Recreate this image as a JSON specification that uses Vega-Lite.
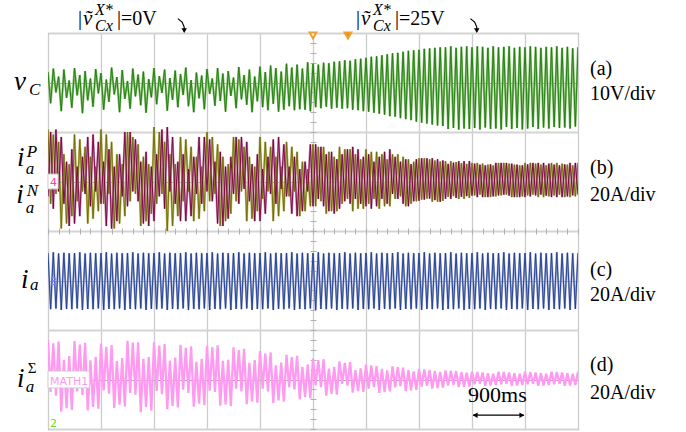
{
"$schema": "https://vega.github.io/schema/vega-lite/v6.json",
"width": 530, "height": 396,
"autosize": {"type": "none"},
"padding": {"left": 48, "top": 33, "right": 108, "bottom": 3},
"background": "white",
"config": {"view": {"stroke": "#3a3a3a", "strokeWidth": 1}},
"datasets": {
"w": [
{"t":0,"a":2.1,"p":21,"n":-6,"i":11.1,"s":16.0},
{"t":0.05,"a":-4.2,"p":-9,"n":20,"i":-11.6,"s":-5.0},
{"t":0.1,"a":2.8,"p":19,"n":-11,"i":11.4,"s":14.6},
{"t":0.15,"a":-2.0,"p":-5,"n":21,"i":-11.3,"s":-6.5},
{"t":0.2,"a":1.2,"p":16,"n":-4,"i":10.9,"s":15.3},
{"t":0.25,"a":-5.8,"p":-19,"n":18,"i":-11.9,"s":-13.0},
{"t":0.3,"a":2.6,"p":11,"n":-9,"i":11.2,"s":8.0},
{"t":0.35,"a":-3.1,"p":-17,"n":8,"i":-11.5,"s":-11.6},
{"t":0.4,"a":0.4,"p":7,"n":-18,"i":11.0,"s":9.5},
{"t":0.45,"a":-5.1,"p":-14,"n":13,"i":-11.6,"s":-12.3},
{"t":0.5,"a":2.9,"p":19,"n":-17,"i":11.1,"s":15.5},
{"t":0.55,"a":-2.6,"p":-8,"n":6,"i":-11.3,"s":-4.8},
{"t":0.6,"a":1.5,"p":17,"n":-14,"i":11.4,"s":14.1},
{"t":0.65,"a":-6.2,"p":-4,"n":10,"i":-11.9,"s":-6.2},
{"t":0.7,"a":2.3,"p":14,"n":-5,"i":10.9,"s":14.8},
{"t":0.75,"a":-3.6,"p":-17,"n":18,"i":-11.5,"s":-12.5},
{"t":0.8,"a":0.8,"p":10,"n":-10,"i":11.2,"s":7.8},
{"t":0.85,"a":-4.9,"p":-15,"n":19,"i":-11.6,"s":-11.1},
{"t":0.9,"a":2.7,"p":6,"n":-4,"i":11.0,"s":9.2},
{"t":0.95,"a":-2.2,"p":-12,"n":16,"i":-11.3,"s":-11.8},
{"t":1.0,"a":1.9,"p":21,"n":-9,"i":11.1,"s":14.5},
{"t":1.05,"a":-5.5,"p":-9,"n":8,"i":-11.9,"s":-4.4},
{"t":1.1,"a":0.6,"p":19,"n":-18,"i":11.4,"s":13.2},
{"t":1.15,"a":-3.9,"p":-5,"n":13,"i":-11.5,"s":-5.7},
{"t":1.2,"a":3.0,"p":16,"n":-19,"i":10.9,"s":13.9},
{"t":1.25,"a":-2.4,"p":-19,"n":6,"i":-11.6,"s":-11.5},
{"t":1.3,"a":1.1,"p":11,"n":-16,"i":11.2,"s":7.4},
{"t":1.35,"a":-6.0,"p":-17,"n":11,"i":-11.3,"s":-10.2},
{"t":1.4,"a":2.5,"p":7,"n":-6,"i":11.0,"s":8.7},
{"t":1.45,"a":-3.3,"p":-14,"n":20,"i":-11.9,"s":-10.9},
{"t":1.5,"a":0.3,"p":20,"n":-10,"i":11.1,"s":15.6},
{"t":1.55,"a":-5.3,"p":-8,"n":20,"i":-11.5,"s":-5.4},
{"t":1.6,"a":2.8,"p":18,"n":-4,"i":11.4,"s":14.9},
{"t":1.65,"a":-2.8,"p":-5,"n":17,"i":-11.6,"s":-6.1},
{"t":1.7,"a":1.6,"p":15,"n":-8,"i":10.9,"s":15.0},
{"t":1.75,"a":-4.6,"p":-18,"n":8,"i":-11.3,"s":-13.2},
{"t":1.8,"a":2.2,"p":10,"n":-17,"i":11.2,"s":8.4},
{"t":1.85,"a":-6.1,"p":-16,"n":12,"i":-11.9,"s":-11.2},
{"t":1.9,"a":0.7,"p":7,"n":-18,"i":11.0,"s":9.1},
{"t":1.95,"a":-3.0,"p":-13,"n":6,"i":-11.5,"s":-12.6},
{"t":2.0,"a":2.9,"p":22,"n":-16,"i":11.1,"s":15.0},
{"t":2.05,"a":-4.4,"p":-9,"n":11,"i":-11.6,"s":-4.6},
{"t":2.1,"a":1.3,"p":20,"n":-6,"i":11.4,"s":13.7},
{"t":2.15,"a":-2.1,"p":-5,"n":21,"i":-11.3,"s":-5.9},
{"t":2.2,"a":2.6,"p":16,"n":-11,"i":10.9,"s":14.3},
{"t":2.25,"a":-5.7,"p":-20,"n":22,"i":-11.9,"s":-12.0},
{"t":2.3,"a":0.9,"p":11,"n":-4,"i":11.2,"s":7.6},
{"t":2.35,"a":-3.5,"p":-18,"n":18,"i":-11.5,"s":-10.7},
{"t":2.4,"a":2.4,"p":7,"n":-9,"i":11.0,"s":8.9},
{"t":2.45,"a":-5.0,"p":-14,"n":8,"i":-11.6,"s":-11.3},
{"t":2.5,"a":1.7,"p":18,"n":-16,"i":11.1,"s":14.0},
{"t":2.55,"a":-2.5,"p":-8,"n":11,"i":-11.3,"s":-4.1},
{"t":2.6,"a":3.0,"p":17,"n":-16,"i":11.4,"s":12.8},
{"t":2.65,"a":-4.8,"p":-4,"n":5,"i":-11.9,"s":-5.4},
{"t":2.7,"a":0.5,"p":14,"n":-14,"i":10.9,"s":13.4},
{"t":2.75,"a":-6.0,"p":-16,"n":10,"i":-11.5,"s":-11.0},
{"t":2.8,"a":2.0,"p":10,"n":-5,"i":11.2,"s":7.1},
{"t":2.85,"a":-3.2,"p":-15,"n":18,"i":-11.6,"s":-9.8},
{"t":2.9,"a":1.4,"p":6,"n":-9,"i":11.0,"s":8.4},
{"t":2.95,"a":-5.4,"p":-12,"n":18,"i":-11.3,"s":-10.4},
{"t":3.0,"a":2.7,"p":20,"n":-4,"i":11.1,"s":13.6},
{"t":3.05,"a":-2.3,"p":-8,"n":17,"i":-11.9,"s":-4.5},
{"t":3.1,"a":0.8,"p":18,"n":-8,"i":11.4,"s":13.1},
{"t":3.15,"a":-4.7,"p":-5,"n":8,"i":-11.5,"s":-5.0},
{"t":3.2,"a":2.9,"p":15,"n":-17,"i":10.9,"s":13.8},
{"t":3.25,"a":-3.7,"p":-18,"n":12,"i":-11.6,"s":-10.6},
{"t":3.3,"a":1.8,"p":10,"n":-18,"i":11.2,"s":7.5},
{"t":3.35,"a":-5.9,"p":-16,"n":6,"i":-11.3,"s":-10.1},
{"t":3.4,"a":2.3,"p":7,"n":-15,"i":11.0,"s":8.0},
{"t":3.45,"a":-2.7,"p":-13,"n":10,"i":-11.9,"s":-10.8},
{"t":3.5,"a":1.0,"p":18,"n":-5,"i":11.1,"s":13.0},
{"t":3.55,"a":-5.2,"p":-8,"n":18,"i":-11.5,"s":-3.7},
{"t":3.6,"a":3.1,"p":17,"n":-9,"i":11.4,"s":11.9},
{"t":3.65,"a":-3.4,"p":-4,"n":18,"i":-11.6,"s":-4.8},
{"t":3.7,"a":1.5,"p":14,"n":-3,"i":10.9,"s":12.4},
{"t":3.75,"a":-4.5,"p":-16,"n":16,"i":-11.3,"s":-10.0},
{"t":3.8,"a":2.6,"p":10,"n":-8,"i":11.2,"s":6.7},
{"t":3.85,"a":-6.0,"p":-15,"n":7,"i":-11.9,"s":-8.9},
{"t":3.9,"a":1.2,"p":6,"n":-16,"i":11.0,"s":7.8},
{"t":3.95,"a":-3.8,"p":-12,"n":11,"i":-11.5,"s":-9.4},
{"t":4.0,"a":3.2,"p":18,"n":-16,"i":11.1,"s":11.5},
{"t":4.05,"a":-5.0,"p":-7,"n":5,"i":-11.6,"s":-3.7},
{"t":4.1,"a":2.1,"p":16,"n":-13,"i":11.4,"s":10.5},
{"t":4.15,"a":-5.6,"p":-4,"n":10,"i":-11.3,"s":-4.8},
{"t":4.2,"a":3.4,"p":14,"n":-5,"i":10.9,"s":11.0},
{"t":4.25,"a":-4.3,"p":-16,"n":17,"i":-11.9,"s":-9.5},
{"t":4.3,"a":2.9,"p":10,"n":-9,"i":11.2,"s":5.7},
{"t":4.35,"a":-5.9,"p":-14,"n":18,"i":-11.5,"s":-8.5},
{"t":4.4,"a":2.2,"p":6,"n":-3,"i":11.0,"s":6.8},
{"t":4.45,"a":-5.5,"p":-12,"n":15,"i":-11.6,"s":-9.0},
{"t":4.5,"a":3.8,"p":16,"n":-6,"i":11.1,"s":10.0},
{"t":4.55,"a":-4.8,"p":-6,"n":6,"i":-11.3,"s":-3.1},
{"t":4.6,"a":3.0,"p":14,"n":-13,"i":11.4,"s":9.1},
{"t":4.65,"a":-5.6,"p":-4,"n":10,"i":-11.9,"s":-4.0},
{"t":4.7,"a":3.6,"p":12,"n":-14,"i":10.9,"s":9.6},
{"t":4.75,"a":-5.4,"p":-14,"n":5,"i":-11.5,"s":-8.0},
{"t":4.8,"a":2.8,"p":8,"n":-12,"i":11.2,"s":5.1},
{"t":4.85,"a":-5.5,"p":-12,"n":8,"i":-11.6,"s":-7.1},
{"t":4.9,"a":4.1,"p":5,"n":-4,"i":11.0,"s":6.0},
{"t":4.95,"a":-5.8,"p":-10,"n":15,"i":-11.3,"s":-7.6},
{"t":5.0,"a":3.8,"p":15,"n":-10,"i":11.1,"s":8.5},
{"t":5.05,"a":-5.0,"p":-10,"n":15,"i":-11.9,"s":-2.4},
{"t":5.1,"a":3.6,"p":14,"n":-7,"i":11.4,"s":7.8},
{"t":5.15,"a":-5.2,"p":-8,"n":14,"i":-11.5,"s":-3.1},
{"t":5.2,"a":4.0,"p":14,"n":-10,"i":10.9,"s":8.1},
{"t":5.25,"a":-4.9,"p":-13,"n":11,"i":-11.6,"s":-6.5},
{"t":5.3,"a":3.9,"p":12,"n":-12,"i":11.2,"s":4.4},
{"t":5.35,"a":-5.3,"p":-12,"n":12,"i":-11.3,"s":-5.8},
{"t":5.4,"a":4.2,"p":10,"n":-13,"i":11.0,"s":5.1},
{"t":5.45,"a":-5.1,"p":-12,"n":9,"i":-11.9,"s":-6.1},
{"t":5.5,"a":4.3,"p":14,"n":-11,"i":11.1,"s":7.3},
{"t":5.55,"a":-5.3,"p":-9,"n":11,"i":-11.5,"s":-1.8},
{"t":5.6,"a":4.5,"p":13,"n":-8,"i":11.4,"s":6.7},
{"t":5.65,"a":-5.2,"p":-7,"n":13,"i":-11.6,"s":-2.5},
{"t":5.7,"a":4.4,"p":13,"n":-9,"i":10.9,"s":7.0},
{"t":5.75,"a":-5.5,"p":-12,"n":14,"i":-11.3,"s":-5.3},
{"t":5.8,"a":4.7,"p":11,"n":-7,"i":11.2,"s":3.8},
{"t":5.85,"a":-5.6,"p":-11,"n":13,"i":-11.9,"s":-4.7},
{"t":5.9,"a":4.8,"p":9,"n":-9,"i":11.0,"s":4.5},
{"t":5.95,"a":-5.8,"p":-11,"n":10,"i":-11.5,"s":-5.0},
{"t":6.0,"a":5.0,"p":13,"n":-10,"i":11.1,"s":6.0},
{"t":6.05,"a":-5.9,"p":-9,"n":11,"i":-11.6,"s":-3.7},
{"t":6.1,"a":5.2,"p":12,"n":-11,"i":11.4,"s":5.7},
{"t":6.15,"a":-6.1,"p":-7,"n":8,"i":-11.3,"s":-3.1},
{"t":6.2,"a":5.3,"p":12,"n":-10,"i":10.9,"s":5.4},
{"t":6.25,"a":-6.3,"p":-11,"n":10,"i":-11.9,"s":-5.4},
{"t":6.3,"a":5.5,"p":11,"n":-7,"i":11.2,"s":4.3},
{"t":6.35,"a":-6.5,"p":-10,"n":12,"i":-11.5,"s":-5.1},
{"t":6.4,"a":5.7,"p":9,"n":-9,"i":11.0,"s":3.7},
{"t":6.45,"a":-6.8,"p":-10,"n":13,"i":-11.6,"s":-4.8},
{"t":6.5,"a":5.9,"p":11,"n":-5,"i":11.1,"s":5.3},
{"t":6.55,"a":-6.9,"p":-7,"n":10,"i":-11.3,"s":-3.2},
{"t":6.6,"a":6.0,"p":11,"n":-7,"i":11.4,"s":5.0},
{"t":6.65,"a":-7.2,"p":-6,"n":8,"i":-11.9,"s":-2.7},
{"t":6.7,"a":6.2,"p":10,"n":-9,"i":10.9,"s":4.8},
{"t":6.75,"a":-7.4,"p":-10,"n":9,"i":-11.5,"s":-4.7},
{"t":6.8,"a":6.4,"p":9,"n":-10,"i":11.2,"s":3.8},
{"t":6.85,"a":-7.6,"p":-9,"n":7,"i":-11.6,"s":-4.4},
{"t":6.9,"a":6.5,"p":8,"n":-8,"i":11.0,"s":3.3},
{"t":6.95,"a":-7.9,"p":-8,"n":9,"i":-11.3,"s":-4.2},
{"t":7.0,"a":6.6,"p":9.4,"n":-7.8,"i":11.1,"s":4.3},
{"t":7.05,"a":-8.1,"p":-7.3,"n":9.4,"i":-11.9,"s":-2.9},
{"t":7.1,"a":6.8,"p":9.4,"n":-7.3,"i":11.4,"s":4.1},
{"t":7.15,"a":-8.3,"p":-6.9,"n":9.4,"i":-11.5,"s":-2.5},
{"t":7.2,"a":6.9,"p":9.0,"n":-6.9,"i":10.9,"s":3.9},
{"t":7.25,"a":-8.5,"p":-8.2,"n":9.4,"i":-11.6,"s":-3.7},
{"t":7.3,"a":7.0,"p":8.5,"n":-7.5,"i":11.2,"s":3.5},
{"t":7.35,"a":-8.7,"p":-8.2,"n":9.0,"i":-11.3,"s":-3.5},
{"t":7.4,"a":7.1,"p":8.1,"n":-8.2,"i":11.0,"s":3.1},
{"t":7.45,"a":-8.8,"p":-7.8,"n":8.5,"i":-11.9,"s":-3.3},
{"t":7.5,"a":7.1,"p":8.2,"n":-7.0,"i":11.1,"s":3.7},
{"t":7.55,"a":-9.4,"p":-6.2,"n":7.1,"i":-11.5,"s":-2.4},
{"t":7.6,"a":7.3,"p":8.2,"n":-7.0,"i":11.4,"s":3.5},
{"t":7.65,"a":-9.2,"p":-5.9,"n":7.6,"i":-11.6,"s":-2.1},
{"t":7.7,"a":7.0,"p":7.8,"n":-6.6,"i":10.9,"s":3.4},
{"t":7.75,"a":-9.5,"p":-7.0,"n":8.2,"i":-11.3,"s":-3.1},
{"t":7.8,"a":7.2,"p":7.4,"n":-6.2,"i":11.2,"s":3.0},
{"t":7.85,"a":-9.3,"p":-7.0,"n":8.2,"i":-11.9,"s":-2.9},
{"t":7.9,"a":7.3,"p":7.1,"n":-5.9,"i":11.0,"s":2.7},
{"t":7.95,"a":-9.4,"p":-6.6,"n":8.2,"i":-11.5,"s":-2.8},
{"t":8.0,"a":7.1,"p":7.5,"n":-5.7,"i":11.1,"s":3.1},
{"t":8.05,"a":-9.2,"p":-5.6,"n":7.2,"i":-11.6,"s":-1.9},
{"t":8.1,"a":7.3,"p":7.5,"n":-6.3,"i":11.4,"s":3.0},
{"t":8.15,"a":-9.5,"p":-5.3,"n":6.8,"i":-11.3,"s":-1.7},
{"t":8.2,"a":7.2,"p":7.2,"n":-6.3,"i":10.9,"s":2.8},
{"t":8.25,"a":-9.1,"p":-6.3,"n":6.5,"i":-11.9,"s":-2.5},
{"t":8.3,"a":7.0,"p":6.8,"n":-6.3,"i":11.2,"s":2.5},
{"t":8.35,"a":-9.4,"p":-6.3,"n":6.9,"i":-11.5,"s":-2.4},
{"t":8.4,"a":7.3,"p":6.5,"n":-6.0,"i":11.0,"s":2.3},
{"t":8.45,"a":-9.3,"p":-6.0,"n":7.5,"i":-11.6,"s":-2.2},
{"t":8.5,"a":7.1,"p":7.5,"n":-5.6,"i":11.1,"s":3.1},
{"t":8.55,"a":-9.5,"p":-5.6,"n":7.5,"i":-11.3,"s":-1.9},
{"t":8.6,"a":7.2,"p":7.5,"n":-5.3,"i":11.4,"s":3.0},
{"t":8.65,"a":-9.0,"p":-5.3,"n":7.5,"i":-11.9,"s":-1.7},
{"t":8.7,"a":7.3,"p":7.2,"n":-5.7,"i":10.9,"s":2.8},
{"t":8.75,"a":-9.4,"p":-6.3,"n":7.2,"i":-11.5,"s":-2.5},
{"t":8.8,"a":7.0,"p":6.8,"n":-6.3,"i":11.2,"s":2.5},
{"t":8.85,"a":-9.2,"p":-6.3,"n":6.8,"i":-11.6,"s":-2.4},
{"t":8.9,"a":7.2,"p":6.5,"n":-6.3,"i":11.0,"s":2.3},
{"t":8.95,"a":-9.5,"p":-6.0,"n":6.5,"i":-11.3,"s":-2.2},
{"t":9.0,"a":7.1,"p":7.5,"n":-6.3,"i":11.1,"s":3.1},
{"t":9.05,"a":-9.3,"p":-5.6,"n":6.9,"i":-11.9,"s":-1.9},
{"t":9.1,"a":7.3,"p":7.5,"n":-6.0,"i":11.4,"s":3.0},
{"t":9.15,"a":-9.0,"p":-5.3,"n":7.5,"i":-11.5,"s":-1.7},
{"t":9.2,"a":7.2,"p":7.2,"n":-5.6,"i":10.9,"s":2.8},
{"t":9.25,"a":-9.4,"p":-6.3,"n":7.5,"i":-11.6,"s":-2.5},
{"t":9.3,"a":7.0,"p":6.8,"n":-5.3,"i":11.2,"s":2.5},
{"t":9.35,"a":-9.1,"p":-6.3,"n":7.5,"i":-11.3,"s":-2.4},
{"t":9.4,"a":7.2,"p":6.5,"n":-5.7,"i":11.0,"s":2.3},
{"t":9.45,"a":-9.3,"p":-6.0,"n":7.2,"i":-11.9,"s":-2.2},
{"t":9.5,"a":7.1,"p":7.5,"n":-6.3,"i":11.1,"s":3.1},
{"t":9.55,"a":-9.0,"p":-5.6,"n":6.8,"i":-11.5,"s":-1.9},
{"t":9.6,"a":7.3,"p":7.5,"n":-6.3,"i":11.4,"s":3.0},
{"t":9.65,"a":-9.2,"p":-5.3,"n":6.5,"i":-11.6,"s":-1.7},
{"t":9.7,"a":7.0,"p":7.2,"n":-6.3,"i":10.9,"s":2.8},
{"t":9.75,"a":-9.1,"p":-6.3,"n":6.9,"i":-11.3,"s":-2.5},
{"t":9.8,"a":7.2,"p":6.8,"n":-6.0,"i":11.2,"s":2.5},
{"t":9.85,"a":-9.3,"p":-6.3,"n":7.5,"i":-11.9,"s":-2.4},
{"t":9.9,"a":6.9,"p":6.5,"n":-5.6,"i":11.0,"s":2.3},
{"t":9.95,"a":-8.9,"p":-6.0,"n":7.5,"i":-11.5,"s":-2.2},
{"t":10.0,"a":7.1,"p":7.5,"n":-5.3,"i":11.1,"s":3.1}
],
"lab": [
{"t":-0.64,"d":2.85,"txt":"v","g":"big"},
{"t":-0.585,"d":1.31,"txt":"i","g":"big"},
{"t":-0.6,"d":0.57,"txt":"i","g":"big"},
{"t":-0.51,"d":-1.15,"txt":"i","g":"big"},
{"t":-0.585,"d":-3.15,"txt":"i","g":"big"},
{"t":-0.36,"d":2.75,"txt":"C","g":"sml"},
{"t":-0.4,"d":1.5,"txt":"P","g":"sml"},
{"t":-0.42,"d":1.15,"txt":"a","g":"sml"},
{"t":-0.4,"d":0.71,"txt":"N","g":"sml"},
{"t":-0.42,"d":0.36,"txt":"a","g":"sml"},
{"t":-0.34,"d":-1.19,"txt":"a","g":"sml"},
{"t":-0.42,"d":-3.25,"txt":"a","g":"sml"},
{"t":-0.38,"d":-2.87,"txt":"Σ","g":"up"},
{"t":10.226,"d":3.15,"txt":"(a)","g":"rt"},
{"t":10.226,"d":2.646,"txt":"10V/div","g":"rt"},
{"t":10.226,"d":1.15,"txt":"(b)","g":"rt"},
{"t":10.226,"d":0.606,"txt":"20A/div","g":"rt"},
{"t":10.226,"d":-0.91,"txt":"(c)","g":"rt"},
{"t":10.226,"d":-1.414,"txt":"20A/div","g":"rt"},
{"t":10.226,"d":-2.83,"txt":"(d)","g":"rt"},
{"t":10.226,"d":-3.394,"txt":"20A/div","g":"rt"},
{"t":0.566,"d":4.162,"txt":"|","g":"top"},
{"t":1.3,"d":4.162,"txt":"|=0V","g":"top"},
{"t":5.811,"d":4.162,"txt":"|","g":"top"},
{"t":6.545,"d":4.162,"txt":"|=25V","g":"top"},
{"t":0.66,"d":4.162,"txt":"v\u0303","g":"topi"},
{"t":5.906,"d":4.162,"txt":"v\u0303","g":"topi"},
{"t":0.887,"d":4.364,"txt":"X*","g":"tops"},
{"t":0.887,"d":4.04,"txt":"Cx","g":"tops"},
{"t":6.132,"d":4.364,"txt":"X*","g":"tops"},
{"t":6.132,"d":4.04,"txt":"Cx","g":"tops"},
{"t":7.925,"d":-3.455,"txt":"900ms","g":"ms"},
{"t":0.04,"d":0.91,"txt":"4","g":"ch"},
{"t":0.04,"d":-1.09,"txt":"3","g":"ch"},
{"t":0.04,"d":-3.11,"txt":"MATH1","g":"ch"},
{"t":0.04,"d":-3.96,"txt":"2","g":"ch"}
],
"arr": [
{"t":2.45,"d":4.29,"id":"a","o":0},{"t":2.53,"d":4.22,"id":"a","o":1},{"t":2.57,"d":4.12,"id":"a","o":2},{"t":2.57,"d":4.03,"id":"a","o":3},
{"t":7.97,"d":4.29,"id":"b","o":0},{"t":8.05,"d":4.22,"id":"b","o":1},{"t":8.09,"d":4.12,"id":"b","o":2},{"t":8.09,"d":4.03,"id":"b","o":3},
{"t":8.02,"d":-3.72,"id":"c","o":0},{"t":8.98,"d":-3.72,"id":"c","o":1}
],
"heads": [
{"t":2.57,"d":4.05,"dir":"down"},{"t":8.09,"d":4.05,"dir":"down"},
{"t":8.06,"d":-3.72,"dir":"left"},{"t":8.94,"d":-3.72,"dir":"right"}
],
"trig": [{"t":5.0,"d":3.95,"g":"hollow"},{"t":5.66,"d":3.95,"g":"solid"}],
"box": [{"t":0,"t2":0.19,"d":1.15,"d2":0.85},{"t":0,"t2":0.78,"d":-2.83,"d2":-3.17}]
},
"layer": [
{"data":{"name":"w"},"mark":{"type":"line","color":"#86c070","strokeWidth":2.2,"clip":true},
 "encoding":{
  "x":{"field":"t","type":"quantitative","scale":{"domain":[0,10],"nice":false},"axis":{"orient":"bottom","values":[0,1,2,3,4,5,6,7,8,9,10],"grid":true,"gridColor":"#cccccc","gridWidth":1.3,"ticks":false,"labels":false,"domain":false,"title":null}},
  "y":{"field":"a","type":"quantitative","scale":{"domain":[-70,10],"nice":false},"axis":{"values":[-70,-50,-30,-10,10],"grid":true,"gridColor":"#d4d4d4","gridWidth":2,"ticks":false,"labels":false,"domain":false,"title":null}}}},
{"data":{"name":"w"},"mark":{"type":"line","color":"#1e7a0c","strokeWidth":0.9,"clip":true},
 "encoding":{
  "x":{"field":"t","type":"quantitative","scale":{"domain":[0,10],"nice":false},"axis":null},
  "y":{"field":"a","type":"quantitative","scale":{"domain":[-70,10],"nice":false},"axis":null}}},
{"data":{"name":"w"},"mark":{"type":"line","color":"#bdb870","strokeWidth":2.2,"clip":true},
 "encoding":{
  "x":{"field":"t","type":"quantitative","scale":{"domain":[0,10],"nice":false},"axis":null},
  "y":{"field":"p","type":"quantitative","scale":{"domain":[-100,60],"nice":false},"axis":{"values":[40,0,-40,-80],"grid":true,"gridColor":"#a9a9a9","gridWidth":1,"ticks":false,"labels":false,"domain":false,"title":null}}}},
{"data":{"name":"w"},"mark":{"type":"line","color":"#c98fb3","strokeWidth":2.2,"clip":true},
 "encoding":{
  "x":{"field":"t","type":"quantitative","scale":{"domain":[0,10],"nice":false},"axis":null},
  "y":{"field":"n","type":"quantitative","scale":{"domain":[-100,60],"nice":false},"axis":null}}},
{"data":{"name":"w"},"mark":{"type":"line","color":"#6e6a00","strokeWidth":0.9,"clip":true},
 "encoding":{
  "x":{"field":"t","type":"quantitative","scale":{"domain":[0,10],"nice":false},"axis":null},
  "y":{"field":"p","type":"quantitative","scale":{"domain":[-100,60],"nice":false},"axis":null}}},
{"data":{"name":"w"},"mark":{"type":"line","color":"#76003f","strokeWidth":0.9,"clip":true},
 "encoding":{
  "x":{"field":"t","type":"quantitative","scale":{"domain":[0,10],"nice":false},"axis":null},
  "y":{"field":"n","type":"quantitative","scale":{"domain":[-100,60],"nice":false},"axis":null}}},
{"data":{"name":"w"},"mark":{"type":"line","color":"#98a6d2","strokeWidth":2,"clip":true},
 "encoding":{
  "x":{"field":"t","type":"quantitative","scale":{"domain":[0,10],"nice":false},"axis":{"orient":"top","offset":-201,"values":[0,0.2,0.4,0.6,0.8,1,1.2,1.4,1.6,1.8,2,2.2,2.4,2.6,2.8,3,3.2,3.4,3.6,3.8,4,4.2,4.4,4.6,4.8,5,5.2,5.4,5.6,5.8,6,6.2,6.4,6.6,6.8,7,7.2,7.4,7.6,7.8,8,8.2,8.4,8.6,8.8,9,9.2,9.4,9.6,9.8,10],"grid":false,"ticks":true,"tickSize":6,"tickColor":"#b0b0b0","labels":false,"domain":false,"title":null}},
  "y":{"field":"i","type":"quantitative","scale":{"domain":[-60,100],"nice":false},"axis":null}}},
{"data":{"name":"w"},"mark":{"type":"line","color":"#1f3b8b","strokeWidth":0.9,"clip":true},
 "encoding":{
  "x":{"field":"t","type":"quantitative","scale":{"domain":[0,10],"nice":false},"axis":null},
  "y":{"field":"i","type":"quantitative","scale":{"domain":[-60,100],"nice":false},"axis":null}}},
{"data":{"name":"w"},"mark":{"type":"line","color":"#ff9af0","strokeWidth":2.3,"clip":true},
 "encoding":{
  "x":{"field":"t","type":"quantitative","scale":{"domain":[0,10],"nice":false},"axis":null},
  "y":{"field":"s","type":"quantitative","scale":{"domain":[-20,140],"nice":false},"axis":{"orient":"left","offset":-268,"values":[-20,-16,-12,-8,-4,0,4,8,12,16,20,24,28,32,36,40,44,48,52,56,60,64,68,72,76,80,84,88,92,96,100,104,108,112,116,120,124,128,132,136,140],"grid":false,"ticks":true,"tickSize":6,"tickColor":"#b0b0b0","labels":false,"domain":false,"title":null}}}},
{"data":{"name":"box"},"mark":{"type":"rect","fill":"white","stroke":"#d0d0d0","strokeWidth":1},
 "encoding":{
  "x":{"field":"t","type":"quantitative","scale":{"domain":[0,10],"nice":false},"axis":null},"x2":{"field":"t2"},
  "y":{"field":"d","type":"quantitative","scale":{"domain":[-4,4],"nice":false},"axis":null},"y2":{"field":"d2"}}},
{"data":{"name":"lab"},"transform":[{"filter":"datum.g == 'ch'"}],"mark":{"type":"text","align":"left","baseline":"alphabetic","font":"DejaVu Sans","fontSize":11},
 "encoding":{
  "x":{"field":"t","type":"quantitative","scale":{"domain":[0,10],"nice":false},"axis":null},
  "y":{"field":"d","type":"quantitative","scale":{"domain":[-4,4],"nice":false},"axis":null},
  "text":{"field":"txt"},
  "color":{"field":"txt","type":"nominal","scale":{"domain":["4","3","MATH1","2"],"range":["#ff3fa0","#7c84ff","#ff99ee","#66dd33"]},"legend":null}}},
{"data":{"name":"lab"},"transform":[{"filter":"datum.g == 'big'"}],"mark":{"type":"text","align":"left","baseline":"alphabetic","font":"Liberation Serif","fontStyle":"italic","fontSize":27,"color":"black"},
 "encoding":{
  "x":{"field":"t","type":"quantitative","scale":{"domain":[0,10],"nice":false},"axis":null},
  "y":{"field":"d","type":"quantitative","scale":{"domain":[-4,4],"nice":false},"axis":null},
  "text":{"field":"txt"}}},
{"data":{"name":"lab"},"transform":[{"filter":"datum.g == 'sml'"}],"mark":{"type":"text","align":"left","baseline":"alphabetic","font":"Liberation Serif","fontStyle":"italic","fontSize":17,"color":"black"},
 "encoding":{
  "x":{"field":"t","type":"quantitative","scale":{"domain":[0,10],"nice":false},"axis":null},
  "y":{"field":"d","type":"quantitative","scale":{"domain":[-4,4],"nice":false},"axis":null},
  "text":{"field":"txt"}}},
{"data":{"name":"lab"},"transform":[{"filter":"datum.g == 'up'"}],"mark":{"type":"text","align":"left","baseline":"alphabetic","font":"Liberation Serif","fontSize":15,"color":"black"},
 "encoding":{
  "x":{"field":"t","type":"quantitative","scale":{"domain":[0,10],"nice":false},"axis":null},
  "y":{"field":"d","type":"quantitative","scale":{"domain":[-4,4],"nice":false},"axis":null},
  "text":{"field":"txt"}}},
{"data":{"name":"lab"},"transform":[{"filter":"datum.g == 'rt' || datum.g == 'top'"}],"mark":{"type":"text","align":"left","baseline":"alphabetic","font":"Liberation Serif","fontSize":20,"color":"black"},
 "encoding":{
  "x":{"field":"t","type":"quantitative","scale":{"domain":[0,10],"nice":false},"axis":null},
  "y":{"field":"d","type":"quantitative","scale":{"domain":[-4,4],"nice":false},"axis":null},
  "text":{"field":"txt"}}},
{"data":{"name":"lab"},"transform":[{"filter":"datum.g == 'topi'"}],"mark":{"type":"text","align":"left","baseline":"alphabetic","font":"Liberation Serif","fontStyle":"italic","fontSize":21,"color":"black"},
 "encoding":{
  "x":{"field":"t","type":"quantitative","scale":{"domain":[0,10],"nice":false},"axis":null},
  "y":{"field":"d","type":"quantitative","scale":{"domain":[-4,4],"nice":false},"axis":null},
  "text":{"field":"txt"}}},
{"data":{"name":"lab"},"transform":[{"filter":"datum.g == 'tops'"}],"mark":{"type":"text","align":"left","baseline":"alphabetic","font":"Liberation Serif","fontStyle":"italic","fontSize":16,"color":"black"},
 "encoding":{
  "x":{"field":"t","type":"quantitative","scale":{"domain":[0,10],"nice":false},"axis":null},
  "y":{"field":"d","type":"quantitative","scale":{"domain":[-4,4],"nice":false},"axis":null},
  "text":{"field":"txt"}}},
{"data":{"name":"lab"},"transform":[{"filter":"datum.g == 'ms'"}],"mark":{"type":"text","align":"left","baseline":"alphabetic","font":"Liberation Serif","fontSize":22,"color":"black"},
 "encoding":{
  "x":{"field":"t","type":"quantitative","scale":{"domain":[0,10],"nice":false},"axis":null},
  "y":{"field":"d","type":"quantitative","scale":{"domain":[-4,4],"nice":false},"axis":null},
  "text":{"field":"txt"}}},
{"data":{"name":"arr"},"mark":{"type":"line","color":"black","strokeWidth":1.2},
 "encoding":{
  "x":{"field":"t","type":"quantitative","scale":{"domain":[0,10],"nice":false},"axis":null},
  "y":{"field":"d","type":"quantitative","scale":{"domain":[-4,4],"nice":false},"axis":null},
  "detail":{"field":"id"},"order":{"field":"o"}}},
{"data":{"name":"heads"},"mark":{"type":"point","filled":true,"color":"black","size":30,"opacity":1},
 "encoding":{
  "x":{"field":"t","type":"quantitative","scale":{"domain":[0,10],"nice":false},"axis":null},
  "y":{"field":"d","type":"quantitative","scale":{"domain":[-4,4],"nice":false},"axis":null},
  "shape":{"field":"dir","type":"nominal","scale":{"domain":["down","left","right"],"range":["triangle-down","triangle-left","triangle-right"]},"legend":null}}},
{"data":{"name":"trig"},"mark":{"type":"point","shape":"triangle-down","size":45,"opacity":1},
 "encoding":{
  "x":{"field":"t","type":"quantitative","scale":{"domain":[0,10],"nice":false},"axis":null},
  "y":{"field":"d","type":"quantitative","scale":{"domain":[-4,4],"nice":false},"axis":null},
  "fill":{"field":"g","type":"nominal","scale":{"domain":["hollow","solid"],"range":["white","#f08c00"]},"legend":null},
  "stroke":{"value":"#f0a030"}}}
],
"resolve": {"scale": {"y": "independent"}, "axis": {"x": "independent", "y": "independent"}}
}
